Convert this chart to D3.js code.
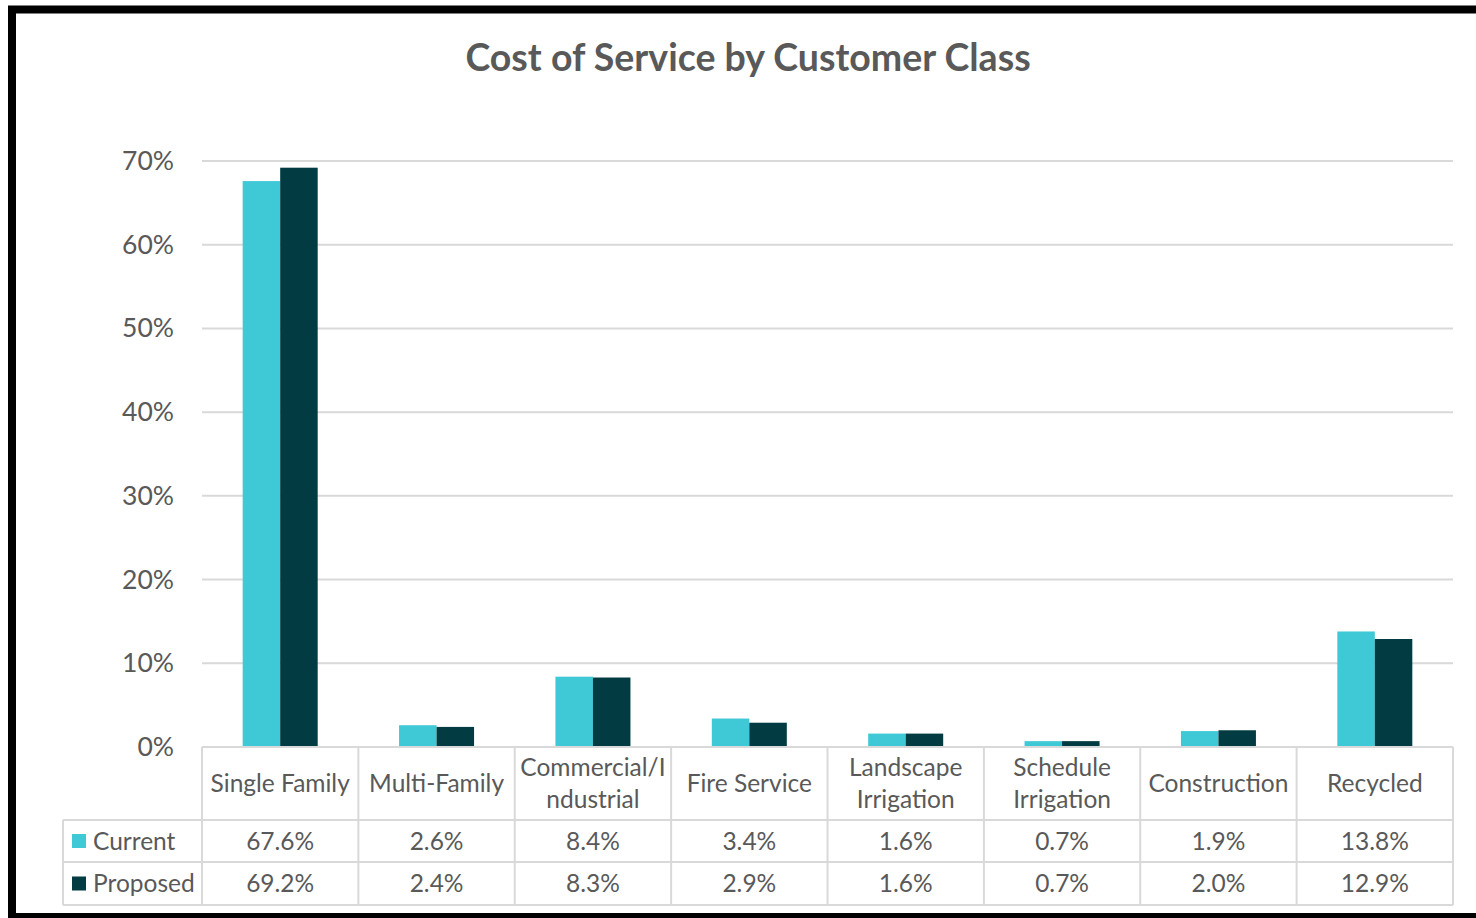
<!DOCTYPE html>
<html>
<head>
<meta charset="utf-8">
<script src="https://cdn.jsdelivr.net/npm/d3@7/dist/d3.min.js"></script>
<style>
  html, body { margin: 0; padding: 0; background: #fff; }
  svg { display: block; }
  text { font-family: Lato, "Open Sans", sans-serif; }
</style>
</head>
<body>
<svg id="chart" width="1476" height="918"></svg>
<script>
// Customer classes (header lines of the data table)
const categories = [
  ["Single Family"],
  ["Multi-Family"],
  ["Commercial/I", "ndustrial"],
  ["Fire Service"],
  ["Landscape", "Irrigation"],
  ["Schedule", "Irrigation"],
  ["Construction"],
  ["Recycled"]
];
const seriesNames = ["Current", "Proposed"];
const currentShare  = [67.6, 2.6, 8.4, 3.4, 1.6, 0.7, 1.9, 13.8];
const proposedShare = [69.2, 2.4, 8.3, 2.9, 1.6, 0.7, 2.0, 12.9];
const yTicks = [0, 10, 20, 30, 40, 50, 60, 70];

const colors = { Current: "#3fc8d5", Proposed: "#023b41" };
const series = [currentShare, proposedShare];

const svg = d3.select("#chart");
const W = 1476, H = 918;

// Frame around the chart
svg.append("rect").attr("x", 0).attr("y", 0).attr("width", W).attr("height", H).attr("fill", "#fff");
svg.append("path")
  .attr("d", `M12,${H} L12,9.5 L${W},9.5`)
  .attr("fill", "none").attr("stroke", "#000").attr("stroke-width", 8);
svg.append("line").attr("x1", 8).attr("x2", W).attr("y1", 915.5).attr("y2", 915.5)
  .attr("stroke", "#000").attr("stroke-width", 5);

// Title
svg.append("text")
  .attr("x", 748).attr("y", 71)
  .attr("text-anchor", "middle")
  .attr("font-size", 37.5).attr("font-weight", 700)
  .attr("fill", "#595959")
  .text("Cost of Service by Customer Class");

const plot = { left: 202, right: 1453, top: 161, bottom: 747 };

const x = d3.scaleBand()
  .domain(d3.range(categories.length))
  .range([plot.left, plot.right]);
const y = d3.scaleLinear().domain([0, 70]).range([plot.bottom, plot.top]);

// Inner band for the two bars of each class
const barW = 37.5;
const xs = d3.scaleBand().domain(seriesNames).range([0, barW * 2]);

// Gridlines
svg.append("g").selectAll("line")
  .data(yTicks.filter(t => t > 0))
  .join("line")
  .attr("x1", plot.left).attr("x2", plot.right)
  .attr("y1", d => y(d)).attr("y2", d => y(d))
  .attr("stroke", "#d9d9d9").attr("stroke-width", 2);

// Y-axis labels
const yAxis = d3.axisLeft(y).tickValues(yTicks).tickFormat(d => d + "%").tickSize(0).tickPadding(0);
const yg = svg.append("g").attr("transform", `translate(174,0)`).call(yAxis);
yg.select(".domain").remove();
yg.selectAll("text")
  .attr("font-size", 26.5).attr("fill", "#595959")
  .attr("font-family", "Lato, 'Open Sans', sans-serif");

// Bars
series.forEach((vals, si) => {
  svg.append("g").selectAll("rect")
    .data(vals)
    .join("rect")
    .attr("x", (d, i) => x(i) + x.bandwidth() / 2 - barW + xs(seriesNames[si]))
    .attr("y", d => y(d))
    .attr("width", xs.bandwidth())
    .attr("height", d => y(0) - y(d))
    .attr("fill", colors[seriesNames[si]]);
});

// Data table beneath the plot
const rowTop = [747, 820, 862, 905];
const legendLeft = 63;
const gridColor = "#d9d9d9";
const tg = svg.append("g");

// horizontal rules
tg.append("line").attr("x1", plot.left).attr("x2", plot.right).attr("y1", rowTop[0]).attr("y2", rowTop[0])
  .attr("stroke", gridColor).attr("stroke-width", 2);
[rowTop[1], rowTop[2], rowTop[3]].forEach(yy => {
  tg.append("line").attr("x1", legendLeft).attr("x2", plot.right).attr("y1", yy).attr("y2", yy)
    .attr("stroke", gridColor).attr("stroke-width", 2);
});
// vertical rules
const colEdges = d3.range(categories.length + 1).map(i => i < categories.length ? x(i) : plot.right);
colEdges.forEach(xx => {
  tg.append("line").attr("x1", xx).attr("x2", xx).attr("y1", rowTop[0]).attr("y2", rowTop[3])
    .attr("stroke", gridColor).attr("stroke-width", 2);
});
tg.append("line").attr("x1", legendLeft).attr("x2", legendLeft).attr("y1", rowTop[1]).attr("y2", rowTop[3])
  .attr("stroke", gridColor).attr("stroke-width", 2);

// header labels
const fs = 24.5;
categories.forEach((lines, i) => {
  const cx = x(i) + x.bandwidth() / 2;
  const cy = (rowTop[0] + rowTop[1]) / 2;
  const lh = 32;
  lines.forEach((ln, k) => {
    tg.append("text")
      .attr("x", cx)
      .attr("y", cy + (k - (lines.length - 1) / 2) * lh)
      .attr("dy", "0.35em")
      .attr("text-anchor", "middle")
      .attr("font-size", fs).attr("fill", "#595959")
      .text(ln);
  });
});

// value rows with legend keys
series.forEach((vals, si) => {
  const cy = (rowTop[si + 1] + rowTop[si + 2]) / 2;
  tg.append("rect")
    .attr("x", 72).attr("y", cy - 7).attr("width", 14).attr("height", 14)
    .attr("fill", colors[seriesNames[si]]);
  tg.append("text")
    .attr("x", 93).attr("y", cy).attr("dy", "0.35em")
    .attr("font-size", fs).attr("fill", "#595959")
    .text(seriesNames[si]);
  vals.forEach((v, i) => {
    tg.append("text")
      .attr("x", x(i) + x.bandwidth() / 2).attr("y", cy).attr("dy", "0.35em")
      .attr("text-anchor", "middle")
      .attr("font-size", fs).attr("fill", "#595959")
      .text(v.toFixed(1) + "%");
  });
});
</script>
</body>
</html>
